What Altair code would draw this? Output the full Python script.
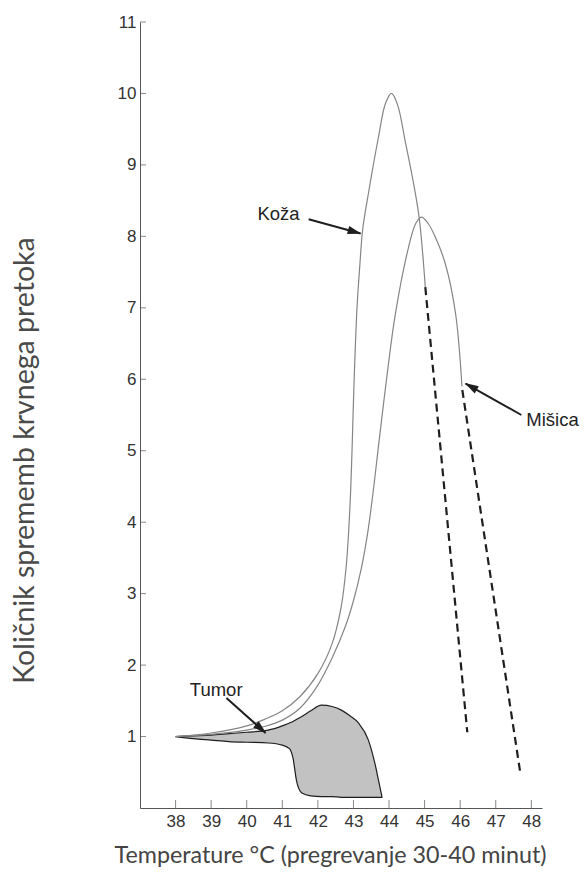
import math
import altair as alt
import pandas as pd

# ---------------- data ----------------
x_ticks = [38, 39, 40, 41, 42, 43, 44, 45, 46, 47, 48]
y_ticks = [1, 2, 3, 4, 5, 6, 7, 8, 9, 10, 11]

koza_x = [38, 39, 40, 40.5, 41, 41.5, 42, 42.4, 42.65, 42.8, 42.9, 42.96, 43.02, 43.1,
          43.18, 43.26, 43.42, 43.7, 43.9, 44.07, 44.24, 44.46, 44.69, 44.85, 45.02]
koza_y = [1.0, 1.05, 1.15, 1.24, 1.36, 1.56, 1.88, 2.3, 2.8, 3.4, 4.2, 5.0, 6.0, 7.0,
          7.6, 8.1, 8.6, 9.38, 9.86, 10.0, 9.84, 9.32, 8.74, 8.25, 7.29]

misica_x = [38, 39, 40, 40.5, 41, 41.5, 42, 42.4, 42.78, 43.0, 43.22, 43.4, 43.56, 43.7,
            43.93, 44.18, 44.55, 44.75, 44.91, 45.1, 45.3, 45.58, 45.87, 46.05]
misica_y = [1.0, 1.03, 1.09, 1.14, 1.23, 1.4, 1.72, 2.1, 2.55, 2.9, 3.35, 3.85, 4.45, 5.05,
            6.0, 6.92, 7.85, 8.18, 8.27, 8.18, 7.99, 7.62, 6.92, 5.9]

koza_dash_x = [45.02, 46.2]
koza_dash_y = [7.29, 1.06]
misica_dash_x = [46.06, 47.69]
misica_dash_y = [5.85, 0.49]

tumor_x = [38, 38.5, 39, 39.5, 40, 40.6, 41, 41.2, 41.3, 41.4, 41.55, 41.8, 42.1, 42.4,
           42.66, 42.9, 43.14, 43.42, 43.6, 43.72, 43.8]
tumor_upper = [1.0, 1.01, 1.02, 1.04, 1.06, 1.09, 1.15, 1.19, 1.21, 1.24, 1.28, 1.36, 1.44,
               1.42, 1.37, 1.29, 1.19, 0.95, 0.63, 0.35, 0.16]
tumor_lower = [1.0, 0.97, 0.95, 0.93, 0.92, 0.91, 0.88, 0.83, 0.7, 0.38, 0.21, 0.17, 0.16,
               0.16, 0.15, 0.15, 0.15, 0.15, 0.15, 0.15, 0.15]

ann_labels = ["Koža", "Mišica", "Tumor"]
ann_x = [40.3, 47.86, 38.4]
ann_y = [8.31, 5.43, 1.65]
arrow_x0 = [41.74, 47.72, 39.43]
arrow_y0 = [8.24, 5.5, 1.54]
arrow_x1 = [43.2, 46.15, 40.53]
arrow_y1 = [8.04, 5.94, 1.05]

x_title = "Temperature °C (pregrevanje 30-40 minut)"
y_title = "Količnik sprememb krvnega pretoka"

# ---------------- layout ----------------
W, H = 402, 786
XMIN, XMAX = 37, 48.3
YMIN, YMAX = 0, 11
ppx = W / (XMAX - XMIN)
ppy = H / (YMAX - YMIN)

xs = alt.Scale(domain=[XMIN, XMAX], nice=False, zero=False)
ys = alt.Scale(domain=[YMIN, YMAX], nice=False, zero=False)

GRAY = "#858585"
DARK = "#1e1e1e"
TICKFONT = "Liberation Sans"
TITLEFONT = "Lato"

solid = pd.DataFrame({
    "x": koza_x + misica_x,
    "y": koza_y + misica_y,
    "curve": ["Koža"] * len(koza_x) + ["Mišica"] * len(misica_x),
})
dashed = pd.DataFrame({
    "x": koza_dash_x + misica_dash_x,
    "y": koza_dash_y + misica_dash_y,
    "curve": ["Koža"] * 2 + ["Mišica"] * 2,
})
tumor = pd.DataFrame({"x": tumor_x, "up": tumor_upper, "lo": tumor_lower})
ann = pd.DataFrame({"label": ann_labels, "x": ann_x, "y": ann_y})

shaft_rows = []
head_rows = []
for i in range(len(ann_labels)):
    shaft_rows.append({"a": i, "x": arrow_x0[i], "y": arrow_y0[i]})
    shaft_rows.append({"a": i, "x": arrow_x1[i], "y": arrow_y1[i]})
    dxp = (arrow_x1[i] - arrow_x0[i]) * ppx
    dyp = (arrow_y1[i] - arrow_y0[i]) * ppy
    L = math.hypot(dxp, dyp)
    ang = math.degrees(math.atan2(dxp, dyp)) % 360
    back = 6.0
    head_rows.append({
        "x": arrow_x1[i] - dxp / L * back / ppx,
        "y": arrow_y1[i] - dyp / L * back / ppy,
        "ang": ang,
    })
shafts = pd.DataFrame(shaft_rows)
heads = pd.DataFrame(head_rows)

xtick_df = pd.DataFrame({"x": x_ticks})
ytick_df = pd.DataFrame({"y": y_ticks})

x_enc = alt.X("x:Q", scale=xs, title=x_title,
              axis=alt.Axis(values=x_ticks, format="d", ticks=False, grid=False,
                            labelFont=TICKFONT, labelFontSize=17, labelColor="#333",
                            labelPadding=5, domainColor="#555",
                            titleFont=TITLEFONT, titleFontSize=23.3, titleFontWeight="normal",
                            titleColor="#444", titleX=190, titleY=54,
                            titleBaseline="alphabetic", titleAlign="center"))
y_enc = alt.Y("y:Q", scale=ys, title=y_title,
              axis=alt.Axis(values=y_ticks, format="d", ticks=False, grid=False,
                            labelFont=TICKFONT, labelFontSize=17, labelColor="#333",
                            labelPadding=4, domainColor="#555",
                            titleFont=TITLEFONT, titleFontSize=28.5, titleFontWeight="normal",
                            titleColor="#4a4a4a", titleX=-107, titleY=438, titleAngle=270,
                            titleBaseline="alphabetic", titleAlign="center"))

tumor_layer = alt.Chart(tumor).mark_area(
    interpolate="monotone", fill="#c2c2c2", stroke=DARK, strokeWidth=1.2
).encode(x=x_enc, y=alt.Y("up:Q", scale=ys), y2="lo:Q")

solid_layer = alt.Chart(solid).mark_line(
    interpolate="catmull-rom", color=GRAY, strokeWidth=1.2
).encode(x=alt.X("x:Q", scale=xs), y=y_enc, detail="curve:N")

dash_layer = alt.Chart(dashed).mark_line(
    color=DARK, strokeWidth=2.2, strokeDash=[8, 5]
).encode(x=alt.X("x:Q", scale=xs), y=alt.Y("y:Q", scale=ys), detail="curve:N")

xtick_layer = alt.Chart(xtick_df).mark_tick(
    orient="vertical", color="#555", size=8, thickness=1, yOffset=-4
).encode(x=alt.X("x:Q", scale=xs), y=alt.datum(0, scale=ys))

ytick_layer = alt.Chart(ytick_df).mark_tick(
    orient="horizontal", color="#555", size=6, thickness=1, xOffset=3
).encode(y=alt.Y("y:Q", scale=ys), x=alt.datum(XMIN, scale=xs))

shaft_layer = alt.Chart(shafts).mark_line(color=DARK, strokeWidth=2).encode(
    x=alt.X("x:Q", scale=xs), y=alt.Y("y:Q", scale=ys), detail="a:N")

head_layer = alt.Chart(heads).mark_point(
    shape="M0,-1L0.6,1L-0.6,1Z", filled=True, color=DARK, opacity=1, size=190
).encode(x=alt.X("x:Q", scale=xs), y=alt.Y("y:Q", scale=ys),
         angle=alt.Angle("ang:Q", scale=None))

text_layer = alt.Chart(ann).mark_text(
    align="left", baseline="middle", font=TICKFONT, fontSize=18.5, color="#222"
).encode(x=alt.X("x:Q", scale=xs), y=alt.Y("y:Q", scale=ys), text="label:N")

chart = alt.layer(
    tumor_layer, solid_layer, dash_layer, xtick_layer, ytick_layer,
    shaft_layer, head_layer, text_layer
).properties(
    width=W, height=H,
    padding={"left": 140, "top": 22, "right": 43, "bottom": 72},
    autosize=alt.AutoSizeParams(type="none"),
    background="white",
).configure_view(stroke=None)

chart.save("out.html", embed_options={"renderer": "svg", "actions": False})
